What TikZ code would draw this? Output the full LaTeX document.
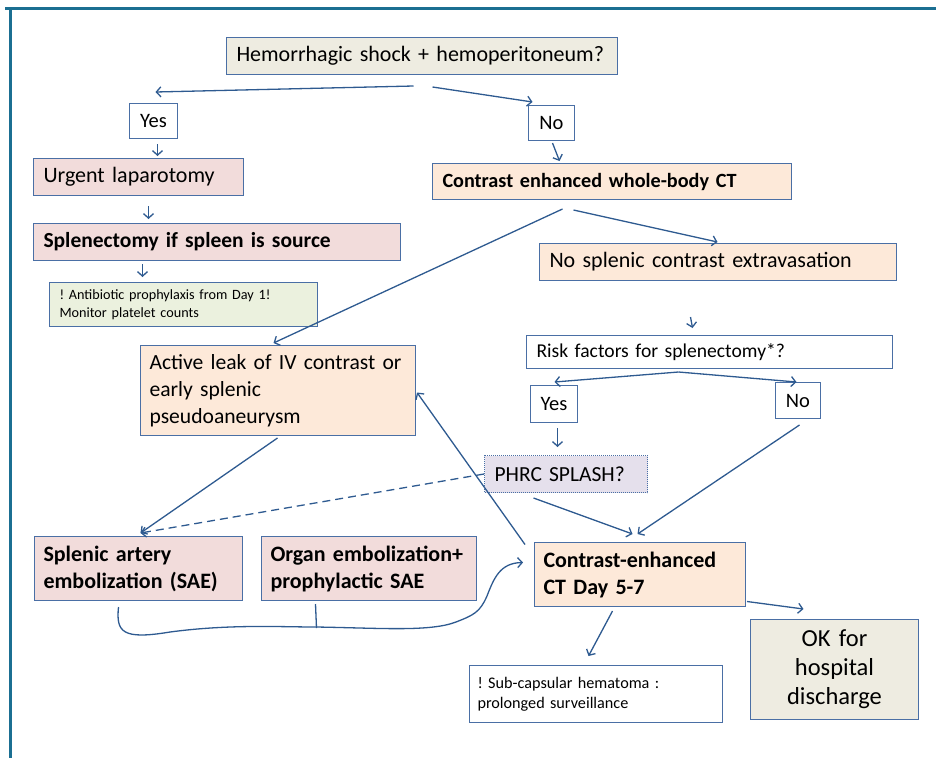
\documentclass[tikz,border=0pt]{standalone}
\usepackage{fontspec}
\setmainfont{Carlito}
\frenchspacing
\usetikzlibrary{arrows.meta}
\definecolor{linec}{HTML}{2E5A90}
\definecolor{bordc}{HTML}{4A6FA5}
\definecolor{framec}{HTML}{1B6F92}
\definecolor{pinkf}{HTML}{F2DCDB}
\definecolor{peachf}{HTML}{FDE9D9}
\definecolor{greenf}{HTML}{EBF1DE}
\definecolor{beigef}{HTML}{EEECE1}
\definecolor{lavf}{HTML}{E5E0EC}
\begin{document}
\begin{tikzpicture}[x=1pt,y=-1pt,
  box/.style={draw=bordc, line width=1pt, anchor=north west, inner xsep=10pt, inner ysep=0pt, align=left},
  arr/.style={draw=linec, line width=1.3pt, -{Straight Barb[length=4.5pt,width=10pt]}},
  plain/.style={draw=linec, line width=1.3pt},
  fs/.style={font=\fontsize{#1}{27}\selectfont\frenchspacing},
  fsb/.style={font=\fontsize{#1}{27}\selectfont\bfseries\frenchspacing}]
\useasboundingbox (0,0) rectangle (936,758);
\draw[framec, line width=3pt] (5,8) -- (936,8);
\draw[framec, line width=3pt] (10,8) -- (10,758);

\node[box,fs=22,fill=beigef,minimum width=391,minimum height=37,text width=371] (hem) at (226,37) {Hemorrhagic shock + hemoperitoneum?};
\node[box,fs=20.5,fill=white,minimum width=48,minimum height=35,inner xsep=0pt,align=center,text width=48] (yes1) at (129,103) {Yes};
\node[box,fs=20.5,fill=white,minimum width=46,minimum height=35,inner xsep=0pt,align=center,text width=46] (no1) at (528,105) {No};
\node[box,fs=22,fill=pinkf,minimum width=210,minimum height=37,text width=190] (urg) at (33,158) {Urgent laparotomy};
\node[box,fsb=21.5,fill=pinkf,minimum width=367,minimum height=37,text width=347] (spl) at (33,223) {Splenectomy if spleen is source};
\node[box,font=\fontsize{14.2}{18}\selectfont\frenchspacing,fill=greenf,minimum width=268,minimum height=44,text width=248] (anti) at (49,282) {! Antibiotic prophylaxis from Day 1!\\Monitor platelet counts};
\node[box,fsb=20.2,fill=peachf,minimum width=359,minimum height=36,text width=339] (cect) at (432,163) {Contrast enhanced whole-body CT};
\node[box,fs=22,fill=peachf,minimum width=357,minimum height=37,text width=337] (nospl) at (539,243) {No splenic contrast extravasation};
\node[box,fs=19.6,fill=white,minimum width=366,minimum height=33,text width=346] (risk) at (526,335) {Risk factors for splenectomy*?};
\node[box,fs=20.5,fill=white,minimum width=47,minimum height=37,inner xsep=0pt,align=center,text width=47] (yes2) at (530,385) {Yes};
\node[box,fs=20.5,fill=white,minimum width=45,minimum height=36,inner xsep=0pt,align=center,text width=45] (no2) at (775,382) {No};
\node[box,fs=21.5,fill=lavf,densely dotted,minimum width=163,minimum height=37,text width=143] (phrc) at (484,455) {PHRC SPLASH?};
\node[box,fs=21.6,fill=peachf,minimum width=275,minimum height=90,text width=257,inner xsep=9pt] (act) at (140,345) {Active leak of IV contrast or\\early splenic\\pseudoaneurysm};
\node[box,fsb=22,fill=pinkf,minimum width=208,minimum height=64,text width=190,inner xsep=9pt] (sae) at (34,536) {Splenic artery\\embolization (SAE)};
\node[box,fsb=22,fill=pinkf,minimum width=215,minimum height=64,text width=197,inner xsep=9pt] (org) at (261,536) {Organ embolization+\\prophylactic SAE};
\node[box,fsb=22,fill=peachf,minimum width=211,minimum height=64,text width=193,inner xsep=9pt] (ctd) at (534,542) {Contrast-enhanced\\CT Day 5-7};
\node[box,font=\fontsize{16.2}{20}\selectfont\frenchspacing,fill=white,minimum width=253,minimum height=57,text width=237,inner xsep=8pt] (sub) at (469,665) {! Sub-capsular hematoma :\\prolonged surveillance};
\node[box,font=\fontsize{24.5}{29}\selectfont,fill=beigef,minimum width=168,minimum height=100,inner xsep=0pt,align=center,text width=168] (ok) at (750,619) {OK for\\hospital\\discharge};

\draw[arr] ([shift={(-8.5,11)}]hem.south) -- ([shift={(2,-11)}]yes1.north);
\draw[arr] ([shift={(10.5,12)}]hem.south) -- ([shift={(-19,-3)}]no1.north);
\draw[arr] ([shift={(4,5)}]yes1.south) -- ([shift={(19,-2)}]urg.north);
\draw[arr] ([shift={(10,10)}]urg.south) -- ([shift={(-68.5,-4)}]spl.north);
\draw[arr] ([shift={(-74.5,3)}]spl.south) -- ([shift={(-41,-5)}]anti.north);
\draw[arr] ([shift={(1,2)}]no1.south) -- ([shift={(-52.5,-2)}]cect.north);
\draw[arr] ([shift={(-49.5,9)}]cect.south) -- ([shift={(-4.5,-2)}]act.north);
\draw[arr] ([shift={(-38.5,10)}]cect.south) -- ([shift={(-0.5,-1)}]nospl.north);
\draw[arr] ([shift={(-27.5,36)}]nospl.south) -- ([shift={(-17,-7)}]risk.north);
\draw[arr] ([shift={(-31,3)}]risk.south) -- ([shift={(0.5,-3)}]yes2.north);
\draw[arr] ([shift={(-31,3)}]risk.south) -- ([shift={(-1.5,0)}]no2.north);
\draw[arr] ([shift={(3.5,5)}]yes2.south) -- ([shift={(-8.5,-8)}]phrc.north);
\draw[arr] ([shift={(1.5,6)}]no2.south) -- ([shift={(-2.5,-8)}]ctd.north);
\draw[arr] ([shift={(-32.5,5)}]phrc.south) -- ([shift={(-7.5,-8)}]ctd.north);
\draw[arr,dash pattern=on 8pt off 5pt] (phrc.west) -- ([shift={(2,-3)}]sae.north);
\draw[arr] ([shift={(-0.5,2)}]act.south) -- ([shift={(2,-3)}]sae.north);
\draw[arr] ([shift={(-9,-30)}]ctd.west) -- ([shift={(1,2)}]act.east);
\draw[arr] ([shift={(1,27)}]ctd.east) -- ([shift={(-31,-10)}]ok.north);
\draw[arr] ([shift={(-27.5,4)}]ctd.south) -- ([shift={(-7.5,-9)}]sub.north);
\coordinate (join) at ([shift={(-52.5,27)}]org.south);
\draw[plain] ([shift={(-53.5,3)}]org.south) -- (join);
\draw[arr] ([shift={(-20,6)}]sae.south) .. controls (116,632) and (122,640) .. (170,632)
  .. controls (230,624) and (280,627) .. (316,627)
  .. controls (380,628) and (430,632) .. (456,622)
  .. controls (474,615) and (480,612) .. (487,596)
  .. controls (494,578) and (500,563) .. ([shift={(-11,-12)}]ctd.west);
\end{tikzpicture}
\end{document}
